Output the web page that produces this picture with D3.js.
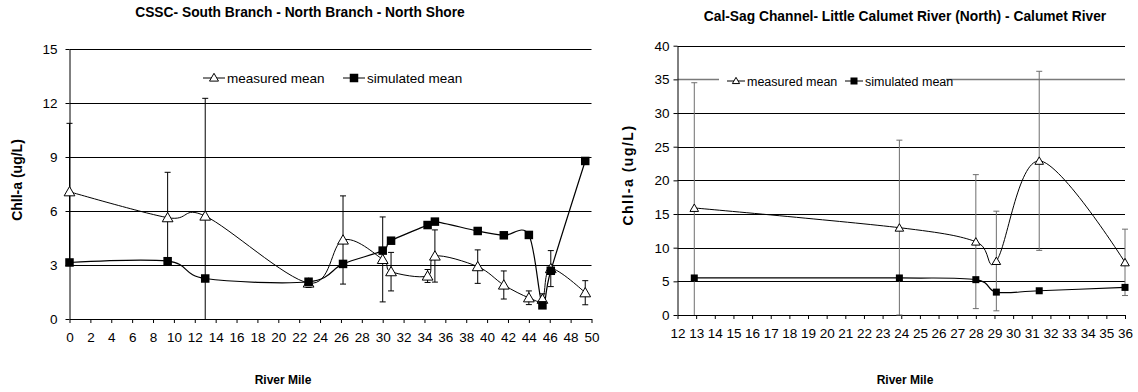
<!DOCTYPE html>
<html>
<head>
<meta charset="utf-8">
<script src="https://cdn.jsdelivr.net/npm/d3@7"></script>
<style>
  html, body { margin: 0; padding: 0; background: #fff; }
  svg { display: block; font-family: "Liberation Sans", Arial, sans-serif; }
</style>
</head>
<body>
<svg id="chart" width="1138" height="392"></svg>
<script>
// ---------- DATA ----------
const leftTitle = "CSSC- South Branch - North Branch - North Shore";
const rightTitle = "Cal-Sag Channel- Little Calumet River (North) - Calumet River";
const xTitle = "River Mile";
const yTitle = "Chll-a (ug/L)";
const legendLabels = ["measured mean", "simulated mean"];

const leftMiles = [0, 9.4, 13, 22.9, 26.2, 30, 30.8, 34.3, 35, 39.1, 41.6, 44, 45.3, 46.1, 49.4];
const leftMeasured = [7.07, 5.63, 5.72, 2.0, 4.39, 3.31, 2.63, 2.39, 3.5, 2.91, 1.89, 1.18, 1.1, 2.8, 1.46];
const leftMeasuredErr = [3.8, 2.52, 6.54, 0.25, 2.45, 2.36, 1.07, 0.36, 1.45, 0.93, 0.78, 0.38, 0.3, 1.0, 0.67];
const leftSimulated = [3.14, 3.21, 2.25, 2.07, 3.06, 3.8, 4.35, 5.22, 5.41, 4.89, 4.65, 4.67, 0.76, 2.68, 8.78];
const leftXTicks = d3.range(0, 51, 2);
const leftYTicks = [0, 3, 6, 9, 12, 15];

const rightMiles = [12.9, 23.9, 28, 29.1, 31.4, 36];
const rightMeasured = [15.9, 12.97, 10.9, 8.02, 22.9, 7.82];
const rightMeasuredErr = [18.6, 13.0, 9.95, 7.4, 13.3, 4.93];
const rightSimulated = [5.5, 5.5, 5.25, 3.4, 3.6, 4.1];
const rightXTicks = d3.range(12, 37, 1);
const rightYTicks = [0, 5, 10, 15, 20, 25, 30, 35, 40];

// ---------- DRAW ----------
const svg = d3.select("#chart");

function panel(cfg) {
  const g = svg.append("g");
  const x = d3.scaleLinear().domain(cfg.xDomain).range(cfg.xRange);
  const y = d3.scaleLinear().domain(cfg.yDomain).range(cfg.yRange);

  // gridlines
  g.append("g").selectAll("line").data(cfg.yTicks.filter(v => v > 0)).join("line")
    .attr("x1", x(cfg.xDomain[0])).attr("x2", x(cfg.xDomain[1]))
    .attr("y1", d => Math.round(y(d)) + 0.5).attr("y2", d => Math.round(y(d)) + 0.5)
    .attr("stroke", d => (cfg.grayGrid && cfg.grayGrid.includes(d)) ? "#7a7a7a" : "#000")
    .attr("stroke-width", d => (cfg.grayGrid && cfg.grayGrid.includes(d)) ? 1.6 : 1);

  // axes
  const xAxis = d3.axisBottom(x).tickValues(cfg.xTicks).tickSize(4).tickSizeOuter(0).tickPadding(cfg.xPad)
    .tickFormat(d3.format("d"));
  const gx = g.append("g").attr("transform", `translate(0,${y(0)})`).call(xAxis);
  const yAxis = d3.axisLeft(y).tickValues(cfg.yTicks).tickSize(4).tickSizeOuter(0).tickPadding(cfg.yPad)
    .tickFormat(d3.format("d"));
  const gy = g.append("g").attr("transform", `translate(${x(cfg.xDomain[0])},0)`).call(yAxis);
  [gx, gy].forEach(a => {
    a.selectAll("text").attr("font-size", cfg.tickFont).attr("fill", "#000")
      .attr("font-family", "'Liberation Sans', Arial, sans-serif");
    a.selectAll("line,path").attr("stroke", "#000");
  });

  // error bars (measured)
  const eb = g.append("g").attr("stroke", cfg.errColor).attr("stroke-width", 1);
  cfg.miles.forEach((m, i) => {
    const v = cfg.measured[i], e = cfg.err[i];
    const lo = Math.max(0, v - e), hi = v + e;
    const cx = x(m);
    eb.append("line").attr("x1", cx).attr("x2", cx).attr("y1", y(lo)).attr("y2", y(hi));
    eb.append("line").attr("x1", cx - cfg.cap).attr("x2", cx + cfg.cap).attr("y1", y(hi)).attr("y2", y(hi));
    if (v - e >= -0.2) {
      eb.append("line").attr("x1", cx - cfg.cap).attr("x2", cx + cfg.cap).attr("y1", y(lo)).attr("y2", y(lo));
    }
  });

  const line = d3.line().curve(d3.curveCardinal.tension(0)).x(d => x(d[0])).y(d => y(d[1]));
  const measPts = cfg.miles.map((m, i) => [m, cfg.measured[i]]);
  const simPts = cfg.miles.map((m, i) => [m, cfg.simulated[i]]);

  g.append("path").attr("d", line(measPts)).attr("fill", "none").attr("stroke", "#000").attr("stroke-width", 1);
  g.append("path").attr("d", line(simPts)).attr("fill", "none").attr("stroke", "#000").attr("stroke-width", 1.2);

  const tri = d3.symbol().type(d3.symbolTriangle).size(cfg.triSize);
  g.append("g").selectAll("path").data(measPts).join("path")
    .attr("transform", d => `translate(${x(d[0])},${y(d[1]) + 1})`)
    .attr("d", tri()).attr("fill", "#fff").attr("stroke", "#000").attr("stroke-width", 1);
  g.append("g").selectAll("rect").data(simPts).join("rect")
    .attr("x", d => x(d[0]) - cfg.sq / 2).attr("y", d => y(d[1]) - cfg.sq / 2)
    .attr("width", cfg.sq).attr("height", cfg.sq).attr("fill", "#000");

  // titles
  svg.append("text").attr("x", cfg.titleX).attr("y", cfg.titleY).attr("text-anchor", "middle")
    .attr("font-weight", "bold").attr("font-size", cfg.titleFont).text(cfg.title);
  svg.append("text").attr("x", cfg.xTitleX).attr("y", 384).attr("text-anchor", "middle")
    .attr("font-weight", "bold").attr("font-size", 12).text(xTitle);
  svg.append("text").attr("transform", `translate(${cfg.yTitleX},${cfg.yTitleY}) rotate(-90)`)
    .attr("text-anchor", "middle").attr("font-weight", "bold").attr("font-size", 14)
    .attr("letter-spacing", cfg.yLetter).text(yTitle);

  // legend
  const lg = svg.append("g");
  if (cfg.legendBox) {
    lg.append("rect").attr("x", cfg.legendBox[0]).attr("y", cfg.legendBox[1])
      .attr("width", cfg.legendBox[2]).attr("height", cfg.legendBox[3]).attr("fill", "#fff");
  }
  const ly = cfg.legendY;
  cfg.legendX.forEach((lx, k) => {
    lg.append("line").attr("x1", lx).attr("x2", lx + cfg.legendLen).attr("y1", ly).attr("y2", ly)
      .attr("stroke", "#000").attr("stroke-width", 1);
    if (k === 0) {
      lg.append("path").attr("transform", `translate(${lx + cfg.legendLen / 2},${ly + 0.5})`)
        .attr("d", d3.symbol().type(d3.symbolTriangle).size(cfg.triSize * 0.7)())
        .attr("fill", "#fff").attr("stroke", "#000");
    } else {
      lg.append("rect").attr("x", lx + cfg.legendLen / 2 - cfg.sq / 2).attr("y", ly - cfg.sq / 2)
        .attr("width", cfg.sq).attr("height", cfg.sq).attr("fill", "#000");
    }
    lg.append("text").attr("x", lx + cfg.legendLen + 2).attr("y", ly + 4.5)
      .attr("font-size", cfg.legendFont).text(legendLabels[k]);
  });
}

panel({
  xDomain: [0, 50], xRange: [69.5, 591.5],
  yDomain: [0, 15], yRange: [319, 49],
  xTicks: leftXTicks, yTicks: leftYTicks, xPad: 9, yPad: 8, tickFont: 13.5,
  miles: leftMiles, measured: leftMeasured, err: leftMeasuredErr, simulated: leftSimulated,
  errColor: "#000", cap: 3, triSize: 50, sq: 8.5,
  title: leftTitle, titleX: 300, titleY: 17, titleFont: 13.8, xTitleX: 283,
  yTitleX: 22, yTitleY: 180, yLetter: 0,
  legendY: 78, legendX: [203, 343], legendLen: 22, legendBox: null, legendFont: 13.5
});

panel({
  xDomain: [12, 36], xRange: [677.5, 1125],
  yDomain: [0, 40], yRange: [315, 45.7],
  xTicks: rightXTicks, yTicks: rightYTicks, xPad: 9, yPad: 4, tickFont: 13.5,
  miles: rightMiles, measured: rightMeasured, err: rightMeasuredErr, simulated: rightSimulated,
  errColor: "#6e6e6e", cap: 3, triSize: 32, sq: 7,
  title: rightTitle, titleX: 905, titleY: 21, titleFont: 13.8, xTitleX: 905,
  yTitleX: 633, yTitleY: 175, yLetter: 1.5,
  legendY: 81, legendX: [727, 845], legendLen: 18, legendBox: [719, 71, 227, 20], legendFont: 12.5,
  grayGrid: [35]
});
</script>
</body>
</html>
